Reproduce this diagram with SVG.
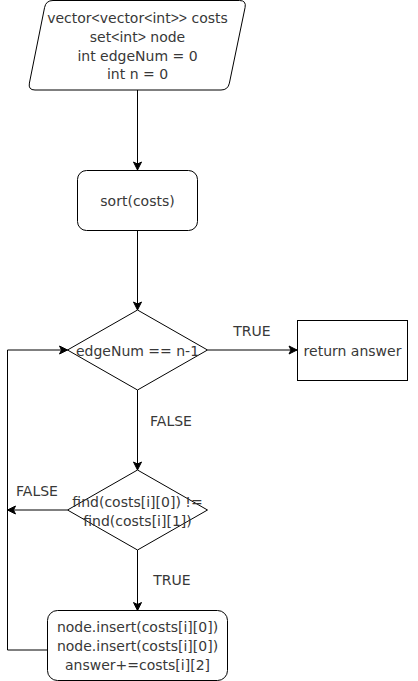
<svg xmlns="http://www.w3.org/2000/svg" width="418" height="681" viewBox="0 0 418 681">
<style>
.shape{fill:#ffffff;stroke:#000000;stroke-width:1}
.lbl{font-family:"DejaVu Sans",sans-serif;font-size:14px;fill:#383838;text-anchor:middle}
.br{font-family:"Liberation Sans",sans-serif}
.edge{fill:none;stroke:#000000;stroke-width:1}
</style>
<defs>
<marker id="arr" markerUnits="userSpaceOnUse" markerWidth="10" markerHeight="10" viewBox="0 0 10 10" refX="9" refY="5" orient="auto">
<path d="M1,1 L9,5 L1,9 L3,5 Z" fill="#000000" stroke="#000000" stroke-width="1"/>
</marker>
</defs>
<rect width="418" height="681" fill="#ffffff"/>
<g id="connectors">
<path class="edge" d="M137.5,90 L137.5,170" marker-end="url(#arr)"/>
<path class="edge" d="M137.5,230.5 L137.5,310" marker-end="url(#arr)"/>
<path class="edge" d="M207.5,350 L297,350" marker-end="url(#arr)"/>
<path class="edge" d="M137.5,390 L137.5,470" marker-end="url(#arr)"/>
<path class="edge" d="M67.5,510 L7.5,510" marker-end="url(#arr)"/>
<path class="edge" d="M47.5,650 L7.5,650 L7.5,350 L67.5,350" marker-end="url(#arr)"/>
<path class="edge" d="M137.5,550 L137.5,610.5" marker-end="url(#arr)"/>
<text class="lbl" x="252" y="335.5">TRUE</text>
<text class="lbl" x="171" y="425.5">FALSE</text>
<text class="lbl" x="37" y="495.5">FALSE</text>
<text class="lbl" x="172" y="585">TRUE</text>
</g>
<g id="init">
<path class="shape" d="M53,0.5 L239.5,0.5 Q246.5,0.5 245.1,7.4 L229.4,83.1 Q228,90 221,90 L35,90 Q28,90 29.4,83.1 L44.6,7.4 Q46,0.5 53,0.5 Z"/>
<text class="lbl" x="137.5" y="23">vector<tspan class="br">&lt;</tspan>vector<tspan class="br">&lt;</tspan>int<tspan class="br">&gt;&gt;</tspan> costs</text>
<text class="lbl" x="137.5" y="42">set<tspan class="br">&lt;</tspan>int<tspan class="br">&gt;</tspan> node</text>
<text class="lbl" x="137.5" y="60.5">int edgeNum = 0</text>
<text class="lbl" x="137.5" y="79">int n = 0</text>
</g>
<g id="sort">
<rect class="shape" x="77.5" y="170.5" width="120" height="60" rx="9" ry="9"/>
<text class="lbl" x="137.5" y="205.5">sort(costs)</text>
</g>
<g id="cond1">
<path class="shape" d="M137.5,310 L207.5,350 L137.5,390 L67.5,350 Z"/>
<text class="lbl" x="137.5" y="355.5">edgeNum == n-1</text>
</g>
<g id="ret">
<rect class="shape" x="297.5" y="320.5" width="110" height="60"/>
<text class="lbl" x="352.5" y="355.5">return answer</text>
</g>
<g id="cond2">
<path class="shape" d="M137.5,470 L207.5,510 L137.5,550 L67.5,510 Z"/>
<text class="lbl" x="137.5" y="506.5">find(costs[i][0]) !=</text>
<text class="lbl" x="137.5" y="525.5">find(costs[i][1])</text>
</g>
<g id="update">
<rect class="shape" x="47.5" y="610.5" width="180" height="70" rx="10" ry="10"/>
<text class="lbl" x="137.5" y="631.5">node.insert(costs[i][0])</text>
<text class="lbl" x="137.5" y="650.5">node.insert(costs[i][0])</text>
<text class="lbl" x="137.5" y="669.5">answer+=costs[i][2]</text>
</g>
</svg>
